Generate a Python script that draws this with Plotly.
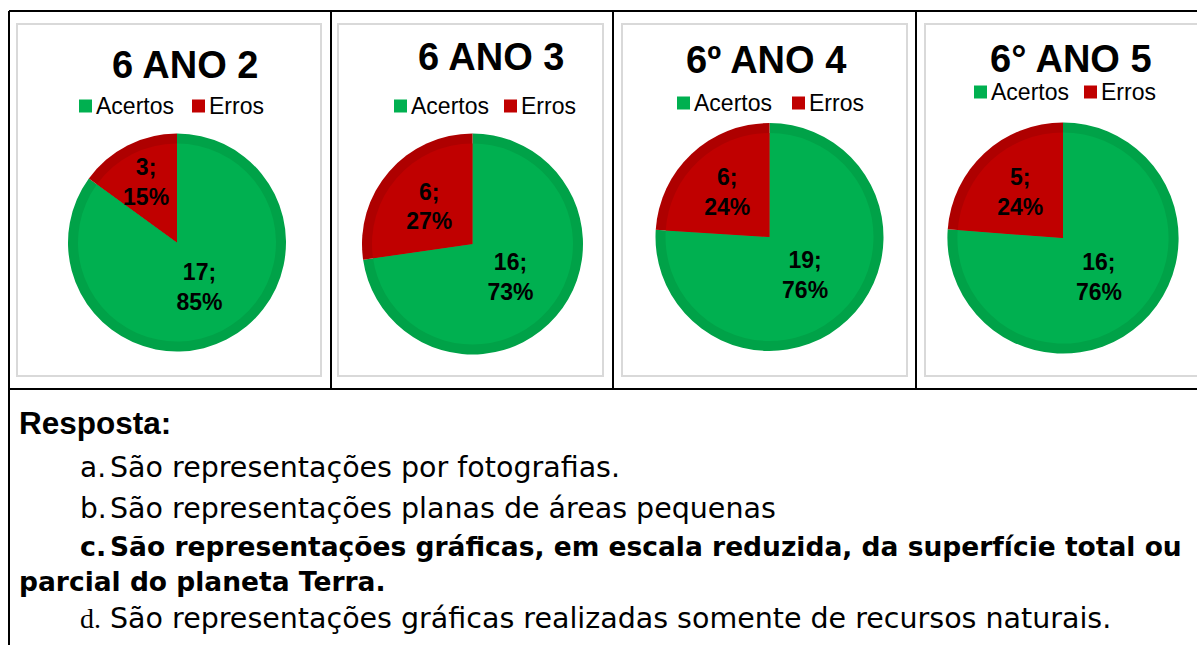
import plotly.graph_objects as go

W, H = 1197, 645

# ---- data ----
titles = ["6 ANO 2", "6 ANO 3", "6º ANO 4", "6° ANO 5"]
labels = ["Acertos", "Erros"]
acertos = [17, 16, 19, 16]
erros = [3, 6, 6, 5]

answer_header = "Resposta:"
option_letters = ["a.", "b.", "c.", "d."]
option_texts = [
    "São representações por fotografias.",
    "São representações planas de áreas pequenas",
    "São representações gráficas, em escala reduzida, da superfície total ou",
    "São representações gráficas realizadas somente de recursos naturais.",
]
option_c_cont = "parcial do planeta Terra."

# ---- layout constants (pixels) ----
fill_colors = ["#00B050", "#C00000"]
band_colors = ["#00A248", "#AE0000"]
pie_cx = [177, 472.5, 769.5, 1063]
pie_cy = [242.5, 244, 237, 238]
pie_r = [109, 110.5, 114, 115.6]
band = 10
title_cx = [185, 491, 765.5, 1071]
title_cy = [65, 57, 60, 59]
leg_x = [[79, 192], [394, 504], [677, 792], [974, 1084]]
leg_y = [106, 106, 103, 92]
frame_x = [(17, 321), (338, 603), (622, 907), (925, 1205)]
frame_y = (24, 376)


def X(p):
    return p / W


def Y(p):
    return 1 - p / H


fig = go.Figure()
shapes = []
annotations = []

for i in range(4):
    vals = [acertos[i], erros[i]]
    cx, cy, r = pie_cx[i], pie_cy[i], pie_r[i]
    # outer (band) layer
    fig.add_trace(go.Pie(
        labels=labels, values=vals, sort=False, direction="clockwise", rotation=0,
        marker=dict(colors=band_colors, line=dict(width=0)),
        textinfo="none", hoverinfo="skip", showlegend=False,
        domain=dict(x=[X(cx - r), X(cx + r)], y=[Y(cy + r), Y(cy - r)]),
    ))
    ri = r - band
    fig.add_trace(go.Pie(
        labels=labels, values=vals, sort=False, direction="clockwise", rotation=0,
        marker=dict(colors=fill_colors, line=dict(width=0)),
        texttemplate="%{value};<br>%{percent:.0%}",
        textposition="inside", insidetextorientation="horizontal",
        textfont=dict(family="Liberation Sans, Arial", size=23, color="black", weight="bold"),
        showlegend=False,
        domain=dict(x=[X(cx - ri), X(cx + ri)], y=[Y(cy + ri), Y(cy - ri)]),
    ))
    # chart frame
    shapes.append(dict(type="rect", xref="paper", yref="paper",
                       x0=X(frame_x[i][0]), x1=X(frame_x[i][1]),
                       y0=Y(frame_y[1]), y1=Y(frame_y[0]),
                       line=dict(color="#D9D9D9", width=2), layer="below"))
    # title
    annotations.append(dict(text="<b>" + titles[i] + "</b>", x=X(title_cx[i]), y=Y(title_cy[i]),
                            xref="paper", yref="paper", xanchor="center", yanchor="middle",
                            showarrow=False,
                            font=dict(family="Liberation Sans, Arial", size=38, color="black")))
    # legend
    for k in range(2):
        lx = leg_x[i][k]
        ly = leg_y[i]
        shapes.append(dict(type="rect", xref="paper", yref="paper",
                           x0=X(lx), x1=X(lx + 13), y0=Y(ly + 6.5), y1=Y(ly - 6.5),
                           fillcolor=fill_colors[k], line=dict(width=0)))
        annotations.append(dict(text=labels[k], x=X(lx + 15), y=Y(ly),
                                xref="paper", yref="paper", xanchor="left", yanchor="middle",
                                showarrow=False,
                                font=dict(family="Liberation Sans, Arial", size=23, color="black")))

# table lines
line_style = dict(color="black", width=2)
shapes.append(dict(type="line", xref="paper", yref="paper", x0=X(9), x1=X(1200), y0=Y(11), y1=Y(11), line=line_style))
shapes.append(dict(type="line", xref="paper", yref="paper", x0=X(9), x1=X(1200), y0=Y(389), y1=Y(389), line=line_style))
shapes.append(dict(type="line", xref="paper", yref="paper", x0=X(9), x1=X(9), y0=Y(11), y1=Y(650), line=line_style))
for vx in [331, 613, 916]:
    shapes.append(dict(type="line", xref="paper", yref="paper", x0=X(vx), x1=X(vx), y0=Y(11), y1=Y(389), line=line_style))

# answer text
annotations.append(dict(text="<b>" + answer_header + "</b>", x=X(17), y=Y(423), xref="paper", yref="paper",
                        xanchor="left", yanchor="middle", showarrow=False,
                        font=dict(family="Liberation Sans, Arial", size=31.5, color="black")))
line_y = [467, 508, 546, 618]
body_font = "DejaVu Sans"
for j in range(4):
    bold = (j == 2)
    letter_font = "Liberation Serif" if j == 3 else body_font
    lt = option_letters[j]
    tt = option_texts[j]
    if bold:
        lt = "<b>" + lt + "</b>"
        tt = "<b>" + tt + "</b>"
    annotations.append(dict(text=lt, x=X(78), y=Y(line_y[j]), xref="paper", yref="paper",
                            xanchor="left", yanchor="middle", showarrow=False,
                            font=dict(family=letter_font, size=(27 if bold else 28), color="black")))
    annotations.append(dict(text=tt, x=X(108), y=Y(line_y[j]), xref="paper", yref="paper",
                            xanchor="left", yanchor="middle", showarrow=False,
                            font=dict(family=body_font, size=(26.5 if bold else 28.5), color="black")))
annotations.append(dict(text="<b>" + option_c_cont + "</b>", x=X(17), y=Y(581), xref="paper", yref="paper",
                        xanchor="left", yanchor="middle", showarrow=False,
                        font=dict(family=body_font, size=26.5, color="black")))

fig.update_layout(
    width=W, height=H, margin=dict(l=0, r=0, t=0, b=0),
    paper_bgcolor="white", plot_bgcolor="white",
    shapes=shapes, annotations=annotations, showlegend=False,
    uniformtext=dict(minsize=23, mode="show"),
)
fig.write_html("out.html", config={"displayModeBar": False},
               post_script="document.body.style.margin='0px';document.body.style.overflow='hidden';")
